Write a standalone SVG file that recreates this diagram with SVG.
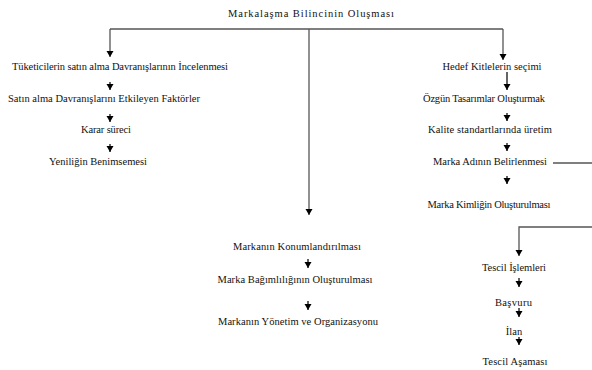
<svg xmlns="http://www.w3.org/2000/svg" width="592" height="370" viewBox="0 0 592 370">
<style>
text{font-family:'Liberation Serif','DejaVu Serif',serif;font-size:10.5px;fill:#111;text-anchor:middle}
.ln{fill:none;stroke:#555;stroke-width:1.3}
.ar{fill:none;stroke:#111;stroke-width:1.3;marker-end:url(#ah)}
.la{fill:none;stroke:#555;stroke-width:1.3;marker-end:url(#ah)}
</style>
<defs>
<marker id="ah" markerUnits="userSpaceOnUse" markerWidth="8" markerHeight="8" refX="6" refY="3.5" orient="auto">
<path d="M0,0 L6,3.5 L0,7 z" fill="#000"/>
</marker>
</defs>
<rect width="592" height="370" fill="#fff"/>
<g id="connectors">
<path class="ln" d="M110,29 H503"/>
<path class="la" d="M110,29 V57"/>
<path class="la" d="M309,29 V215"/>
<path class="la" d="M503,29 V60"/>
<path class="ar" d="M110,82 V90"/>
<path class="ar" d="M110,114 V122"/>
<path class="ar" d="M110,144 V152"/>
<path class="ar" d="M507,72 V90"/>
<path class="ar" d="M507,113 V121"/>
<path class="ar" d="M507,143 V151"/>
<path class="ar" d="M507,176 V184"/>
<path class="ln" d="M553,163 H592"/>
<path class="la" d="M592,227 H519 V256"/>
<path class="ar" d="M519,278 V287"/>
<path class="ar" d="M519,308 V317"/>
<path class="ar" d="M519,337 V345"/>
<path class="ar" d="M308,259 V268"/>
<path class="ar" d="M308,301 V310"/>
</g>
<g id="n-root"><text x="311" y="17" textLength="166" lengthAdjust="spacing">Markalaşma  Bilincinin Oluşması</text></g>
<g id="n-tuketici"><text x="120" y="70" textLength="216" lengthAdjust="spacing">Tüketicilerin  satın alma Davranışlarının İncelenmesi</text></g>
<g id="n-etkileyen"><text x="104" y="102" textLength="192" lengthAdjust="spacing">Satın alma Davranışlarını Etkileyen  Faktörler</text></g>
<g id="n-karar"><text x="106" y="133" textLength="50" lengthAdjust="spacing">Karar süreci</text></g>
<g id="n-yenilik"><text x="98" y="165" textLength="98" lengthAdjust="spacing">Yeniliğin  Benimsemesi</text></g>
<g id="n-hedef"><text x="492" y="70" textLength="99" lengthAdjust="spacing">Hedef  Kitlelerin  seçimi</text></g>
<g id="n-ozgun"><text x="484" y="102" textLength="122" lengthAdjust="spacing">Özgün  Tasarımlar Oluşturmak</text></g>
<g id="n-kalite"><text x="490" y="133" textLength="124" lengthAdjust="spacing">Kalite standartlarında üretim</text></g>
<g id="n-adi"><text x="490" y="165" textLength="114" lengthAdjust="spacing">Marka Adının Belirlenmesi</text></g>
<g id="n-kimlik"><text x="489" y="208" textLength="123" lengthAdjust="spacing">Marka Kimliğin  Oluşturulması</text></g>
<g id="n-tescil"><text x="514" y="271" textLength="64" lengthAdjust="spacing">Tescil  İşlemleri</text></g>
<g id="n-basvuru"><text x="513.5" y="306" textLength="37" lengthAdjust="spacing">Başvuru</text></g>
<g id="n-ilan"><text x="514" y="335">İlan</text></g>
<g id="n-asama"><text x="515" y="365" textLength="65" lengthAdjust="spacing">Tescil  Aşaması</text></g>
<g id="n-konum"><text x="297" y="250" textLength="128" lengthAdjust="spacing">Markanın Konumlandırılması</text></g>
<g id="n-bagimlilik"><text x="295" y="283" textLength="155" lengthAdjust="spacing">Marka Bağımlılığının Oluşturulması</text></g>
<g id="n-yonetim"><text x="298" y="325" textLength="160" lengthAdjust="spacing">Markanın Yönetim ve Organizasyonu</text></g>
</svg>
